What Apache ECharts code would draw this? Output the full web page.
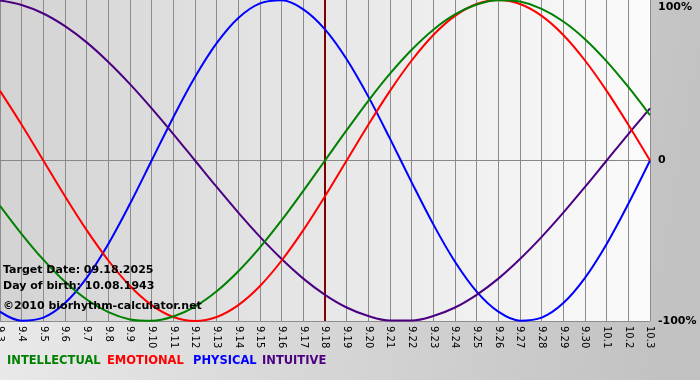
<!DOCTYPE html>
<html>
<head>
<meta charset="utf-8">
<script src="https://cdn.jsdelivr.net/npm/echarts@6/dist/echarts.min.js"></script>
<style>html,body{margin:0;padding:0;}#c{width:700px;height:380px;}</style>
</head>
<body>
<div id="c"></div>
<script>
var days = ['9.3','9.4','9.5','9.6','9.7','9.8','9.9','9.10','9.11','9.12','9.13','9.14','9.15','9.16','9.17','9.18','9.19','9.20','9.21','9.22','9.23','9.24','9.25','9.26','9.27','9.28','9.29','9.30','10.1','10.2','10.3'];
var targetDay = '9.18';
var intellectual = [-28.2,-45.8,-61.8,-75.6,-86.6,-94.5,-99.0,-99.9,-97.2,-91.0,-81.5,-69.0,-54.1,-37.2,-18.9,0,18.9,37.2,54.1,69.0,81.5,91.0,97.2,99.9,99.0,94.5,86.6,75.6,61.8,45.8,28.2];
var emotional = [43.4,22.3,0,-22.3,-43.4,-62.3,-78.2,-90.1,-97.5,-100,-97.5,-90.1,-78.2,-62.3,-43.4,-22.3,0,22.3,43.4,62.3,78.2,90.1,97.5,100,97.5,90.1,78.2,62.3,43.4,22.3,0];
var physical = [-94.2,-99.8,-97.9,-88.8,-73.1,-52.0,-27.0,0,27.0,52.0,73.1,88.8,97.9,99.8,94.2,81.7,63.1,39.8,13.6,-13.6,-39.8,-63.1,-81.7,-94.2,-99.8,-97.9,-88.8,-73.1,-52.0,-27.0,0];
var intuitive = [99.7,96.9,91.6,83.7,73.6,61.4,47.6,32.5,16.5,0,-16.5,-32.5,-47.6,-61.4,-73.6,-83.7,-91.6,-96.9,-99.7,-99.7,-96.9,-91.6,-83.7,-73.6,-61.4,-47.6,-32.5,-16.5,0,16.5,32.5];
var yTicks = [-100, 0, 100];
var legendNames = ['INTELLECTUAL','EMOTIONAL','PHYSICAL','INTUITIVE'];
var infoLines = ['Target Date: 09.18.2025','Day of birth: 10.08.1943','\u00a92010 biorhythm-calculator.net'];

var colors = ['#008000','#ff0000','#0000ff','#4b0082'];
var chart = echarts.init(document.getElementById('c'), null, {renderer:'canvas'});
function mk(name, data, color, extra){
  var s = {name:name, type:'line', data:data, smooth:0.35, symbol:'none',
    lineStyle:{color:color,width:2}, itemStyle:{color:color}, z:3, animation:false};
  if (extra) for (var k in extra) s[k]=extra[k];
  return s;
}
var font = 'DejaVu Sans, Verdana, sans-serif';
var legendX = [7, 107, 193, 262];
var graphics = [
  {type:'text', left:3, top:265, z:100, style:{text:infoLines[0], font:'bold 11px '+font, fill:'#000'}},
  {type:'text', left:3, top:281, z:100, style:{text:infoLines[1], font:'bold 11px '+font, fill:'#000'}},
  {type:'text', left:3, top:301, z:100, style:{text:infoLines[2], font:'bold 11px '+font, fill:'#000'}}
];
legendNames.forEach(function(n,i){
  graphics.push({type:'text', left:legendX[i], top:355, z:100, style:{text:n, font:'bold 11.5px '+font, fill:colors[i]}});
});
chart.setOption({
  animation:false,
  backgroundColor:{type:'linear',x:0,y:0,x2:1,y2:0.3,colorStops:[{offset:0,color:'#ececec'},{offset:1,color:'#c2c2c2'}]},
  grid:{left:0, right:50, top:0, bottom:59, show:true, borderWidth:0, containLabel:false, outerBoundsMode:'none',
    backgroundColor:{type:'linear',x:0,y:0,x2:1,y2:0,colorStops:[{offset:0,color:'#d3d3d3'},{offset:1,color:'#fbfbfb'}]}},
  xAxis:{type:'category', data:days, boundaryGap:false,
    axisLine:{show:true,lineStyle:{color:'#888888',width:1}},
    axisTick:{show:true,alignWithLabel:true,interval:0,length:3,lineStyle:{color:'#888888'}},
    splitLine:{show:true,interval:0,lineStyle:{color:'#8c8c8c',width:1}},
    axisLabel:{interval:0, rotate:-90, color:'#000', fontSize:10, fontFamily:font, margin:5}},
  yAxis:{type:'value', position:'right', min:yTicks[0], max:yTicks[2], interval:100,
    axisLine:{show:false}, axisTick:{show:false},
    splitLine:{show:true,lineStyle:{color:['#8c8c8c','#8c8c8c','rgba(0,0,0,0)'],width:1}},
    axisLabel:{color:'#000', fontSize:11, fontWeight:'bold', fontFamily:font, margin:8,
      formatter:function(v){return v===yTicks[2]?'{t|'+v+'%}':(v===0?'0':v+'%');},
      rich:{t:{padding:[14,0,0,0],color:'#000',fontSize:11,fontWeight:'bold',fontFamily:font}}}},
  series:[
    mk(legendNames[2], physical, colors[2]),
    mk(legendNames[3], intuitive, colors[3]),
    mk(legendNames[1], emotional, colors[1]),
    mk(legendNames[0], intellectual, colors[0], {markLine:{silent:true,symbol:'none',label:{show:false},
      lineStyle:{color:'#800000',width:2,type:'solid'}, data:[{xAxis:targetDay}], z:2}})
  ],
  graphic:graphics
});
</script>
</body>
</html>
